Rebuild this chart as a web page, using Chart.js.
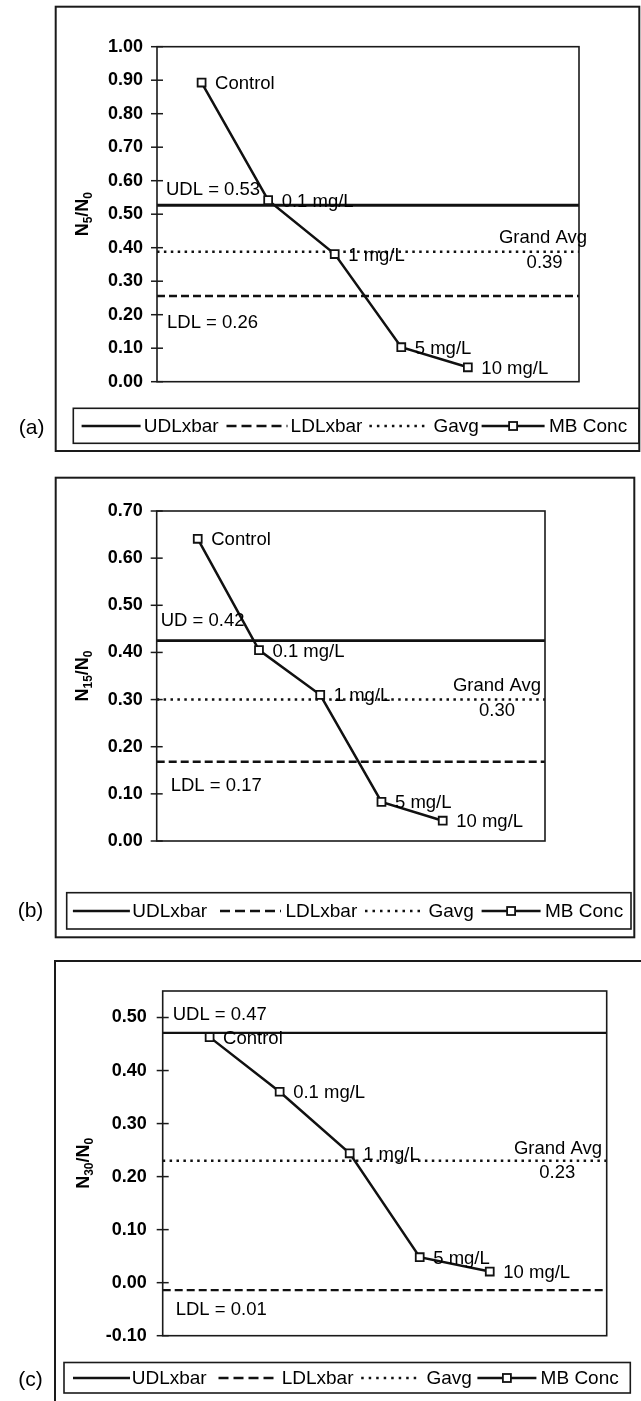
<!DOCTYPE html>
<html><head><meta charset="utf-8">
<script src="https://cdn.jsdelivr.net/npm/chart.js@4/dist/chart.umd.min.js"></script>
<style>
html,body{margin:0;padding:0;background:#fff;}
body{width:641px;height:1401px;position:relative;overflow:hidden;}
.panel{position:absolute;left:0;width:641px;}
canvas{display:block;}
</style></head><body>
<div class="panel" style="top:0"><canvas id="ca" width="641" height="465"></canvas></div>
<div class="panel" style="top:465px"><canvas id="cb" width="641" height="485"></canvas></div>
<div class="panel" style="top:950px"><canvas id="cc" width="641" height="451"></canvas></div>
<script>
// ---- data ----
const categories = ['Control', '0.1 mg/L', '1 mg/L', '5 mg/L', '10 mg/L'];
const xIndex = [0, 1, 2, 3, 4];
const xRange = [-0.67, 5.67];
const mbA = [0.893, 0.542, 0.381, 0.103, 0.043];
const mbB = [0.641, 0.405, 0.310, 0.083, 0.043];
const mbC = [0.463, 0.360, 0.244, 0.048, 0.021];
const udl = [0.527, 0.425, 0.471];
const ldl = [0.256, 0.168, -0.014];
const gavg = [0.388, 0.300, 0.230];
const udlText = ['UDL = 0.53', 'UD = 0.42', 'UDL = 0.47'];
const ldlText = ['LDL = 0.26', 'LDL = 0.17', 'LDL = 0.01'];
const gavgTitle = 'Grand Avg';
const gavgText = ['0.39', '0.30', '0.23'];
const ticksA = [0, 0.1, 0.2, 0.3, 0.4, 0.5, 0.6, 0.7, 0.8, 0.9, 1.0];
const ticksB = [0, 0.1, 0.2, 0.3, 0.4, 0.5, 0.6, 0.7];
const ticksC = [-0.1, 0, 0.1, 0.2, 0.3, 0.4, 0.5];
const rangeA = [0, 1.0];
const rangeB = [0, 0.7];
const rangeC = [-0.1, 0.55];
const titleSub = ['5', '15', '30'];
const panelLabels = ['(a)', '(b)', '(c)'];
const legendLabels = ['UDLxbar', 'LDLxbar', 'Gavg', 'MB Conc'];

// ---- layout (positions / styles) ----
const FONT = "'Liberation Sans', Arial, sans-serif";
const layouts = [
  { H: 465, L: 157, R: 579, T: 46.7, B: 381.7, tickPad: 14, udlW: 3,
    outer: [55.7, 6.7, 639.3, 451], lbox: [73.3, 408.3, 639, 443.3], lcy: 426,
    lsx: [81.6, 226.5, 369.4, 481.6], lsw: [59, 61, 58, 63], ltx: [143.7, 290.6, 433.5, 549],
    plab: [31.7, 428], titleX: 81,
    udlL: [9, -15], ldlL: [10, 27], gT: [8, -13.7], gV: [-16.4, 11.6] },
  { H: 485, L: 156.7, R: 545, T: 46, B: 376, tickPad: 14, udlW: 2.6,
    outer: [55.7, 12.7, 634.3, 472.3], lbox: [66.7, 427.7, 631, 464], lcy: 446,
    lsx: [72.9, 220, 365, 481.6], lsw: [57, 61, 57, 59], ltx: [132.2, 285.4, 428.5, 545],
    plab: [30.5, 446.7], titleX: 81,
    udlL: [4, -20], ldlL: [14, 24], gT: [-4, -13.3], gV: [-30, 11.4] },
  { H: 451, L: 162.7, R: 606.7, T: 41, B: 385.7, tickPad: 16, udlW: 2.2,
    outer: [55, 11, 660, 470], lbox: [64, 412.5, 630.3, 443], lcy: 428,
    lsx: [73, 218.5, 361.2, 477.4], lsw: [57, 59, 55, 59], ltx: [131.7, 281.7, 426.5, 540.6],
    plab: [30.5, 430], titleX: 82,
    udlL: [10, -18], ldlL: [13, 20], gT: [-4.7, -11.7], gV: [-31.4, 12.7] }
];

function decorPlugin(k, vals) {
  const lay = layouts[k];
  return {
    id: 'decor' + k,
    afterDraw(chart) {
      const ctx = chart.ctx;
      const ca = chart.chartArea;
      const xs = chart.scales.x, ys = chart.scales.y;
      ctx.save();
      ctx.strokeStyle = '#1a1a1a';
      ctx.fillStyle = '#000';
      // outer box
      ctx.lineWidth = 2;
      const o = lay.outer;
      ctx.strokeRect(o[0], o[1], o[2] - o[0], o[3] - o[1]);
      // plot area border
      ctx.lineWidth = 1.6;
      ctx.strokeRect(ca.left, ca.top, ca.right - ca.left, ca.bottom - ca.top);
      // tick marks crossing the axis
      ctx.lineWidth = 1.5;
      ys.ticks.forEach(t => {
        const py = ys.getPixelForValue(t.value);
        ctx.beginPath(); ctx.moveTo(ca.left - 6, py); ctx.lineTo(ca.left + 6, py); ctx.stroke();
      });
      // annotations
      ctx.font = '18.5px ' + FONT;
      ctx.textBaseline = 'middle';
      const pu = ys.getPixelForValue(udl[k]);
      const pl = ys.getPixelForValue(ldl[k]);
      const pg = ys.getPixelForValue(gavg[k]);
      ctx.textAlign = 'left';
      ctx.fillText(udlText[k], ca.left + lay.udlL[0], pu + lay.udlL[1]);
      ctx.fillText(ldlText[k], ca.left + lay.ldlL[0], pl + lay.ldlL[1]);
      ctx.textAlign = 'right';
      ctx.fillText(gavgTitle, ca.right + lay.gT[0], pg + lay.gT[1]);
      ctx.fillText(gavgText[k], ca.right + lay.gV[0], pg + lay.gV[1]);
      // data labels
      ctx.textAlign = 'left';
      xIndex.forEach((xv, i) => {
        const px = xs.getPixelForValue(xv), py = ys.getPixelForValue(vals[i]);
        ctx.fillText(categories[i], px + 13.5, py + 1.5);
      });
      // y title with subscripts
      ctx.save();
      const cy = (ca.top + ca.bottom) / 2;
      ctx.translate(lay.titleX, cy);
      ctx.rotate(-Math.PI / 2);
      const big = 'bold 18px ' + FONT, small = 'bold 12px ' + FONT;
      const parts = [['N', big, 0], [titleSub[k], small, 4], ['/N', big, 0], ['0', small, 4]];
      let tw = 0;
      parts.forEach(p => { ctx.font = p[1]; tw += ctx.measureText(p[0]).width; });
      let xx = -tw / 2;
      ctx.textAlign = 'left';
      ctx.textBaseline = 'alphabetic';
      parts.forEach(p => { ctx.font = p[1]; ctx.fillText(p[0], xx, 6.5 + p[2]); xx += ctx.measureText(p[0]).width; });
      ctx.restore();
      // panel label
      ctx.font = '21px ' + FONT;
      ctx.textAlign = 'center';
      ctx.textBaseline = 'middle';
      ctx.fillText(panelLabels[k], lay.plab[0], lay.plab[1]);
      // legend
      const b = lay.lbox;
      ctx.lineWidth = 1.6;
      ctx.strokeRect(b[0], b[1], b[2] - b[0], b[3] - b[1]);
      const y = lay.lcy;
      const dashes = [[], [10, 5], [2.5, 5], []];
      ctx.lineWidth = 2.6;
      ctx.strokeStyle = '#111';
      for (let i = 0; i < 4; i++) {
        ctx.setLineDash(dashes[i]);
        ctx.beginPath(); ctx.moveTo(lay.lsx[i], y); ctx.lineTo(lay.lsx[i] + lay.lsw[i], y); ctx.stroke();
      }
      ctx.setLineDash([]);
      const mx = lay.lsx[3] + lay.lsw[3] / 2;
      ctx.fillStyle = '#fff';
      ctx.fillRect(mx - 4, y - 4, 8, 8);
      ctx.lineWidth = 1.8;
      ctx.strokeRect(mx - 4, y - 4, 8, 8);
      ctx.fillStyle = '#000';
      ctx.font = '19px ' + FONT;
      ctx.textAlign = 'left';
      ctx.textBaseline = 'middle';
      for (let i = 0; i < 4; i++) ctx.fillText(legendLabels[i], lay.ltx[i], y + 1);
      ctx.restore();
    }
  };
}

function makePanel(id, k, vals, range, ticks) {
  const lay = layouts[k];
  const hline = v => [{ x: xRange[0], y: v }, { x: xRange[1], y: v }];
  new Chart(document.getElementById(id), {
    type: 'line',
    data: {
      datasets: [
        { label: legendLabels[3], data: xIndex.map((x, i) => ({ x, y: vals[i] })),
          borderColor: '#111', borderWidth: 2.5, tension: 0,
          pointStyle: 'rect', pointRadius: 5.6, pointBorderWidth: 1.8,
          pointBackgroundColor: '#fff', pointBorderColor: '#111' },
        { label: legendLabels[0], data: hline(udl[k]), borderColor: '#111', borderWidth: lay.udlW, pointRadius: 0 },
        { label: legendLabels[1], data: hline(ldl[k]), borderColor: '#111', borderWidth: 2.4, borderDash: [8, 4], pointRadius: 0 },
        { label: legendLabels[2], data: hline(gavg[k]), borderColor: '#111', borderWidth: 2.5, borderDash: [2.5, 4.4], pointRadius: 0 }
      ]
    },
    options: {
      responsive: false, animation: false, devicePixelRatio: 1, events: [],
      layout: { padding: { left: lay.L - 60, right: 641 - lay.R, top: lay.T, bottom: lay.H - lay.B } },
      plugins: { legend: { display: false }, tooltip: { enabled: false }, title: { display: false } },
      scales: {
        x: { type: 'linear', display: false, min: xRange[0], max: xRange[1] },
        y: {
          type: 'linear', position: 'left', min: range[0], max: range[1],
          grid: { display: false, drawTicks: false }, border: { display: false },
          ticks: { autoSkip: false, padding: lay.tickPad, color: '#000',
            font: { family: FONT, size: 18, weight: 'bold' },
            callback: v => Number(v).toFixed(2) },
          afterBuildTicks: s => { s.ticks = ticks.map(v => ({ value: v })); },
          afterFit: s => { s.width = 60; }
        }
      }
    },
    plugins: [decorPlugin(k, vals)]
  });
}

makePanel('ca', 0, mbA, rangeA, ticksA);
makePanel('cb', 1, mbB, rangeB, ticksB);
makePanel('cc', 2, mbC, rangeC, ticksC);
</script>
</body></html>
